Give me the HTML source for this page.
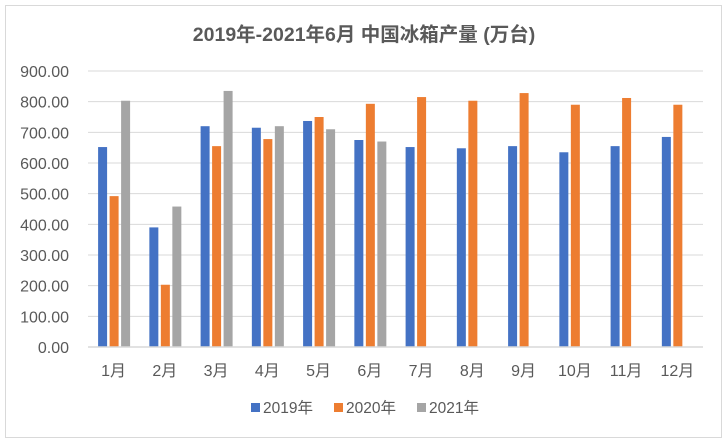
<!DOCTYPE html>
<html><head><meta charset="utf-8"><style>
html,body{margin:0;padding:0;background:#fff;}
body{width:727px;height:442px;overflow:hidden;}
text{font-family:"Liberation Sans","Noto Sans CJK SC",sans-serif;}
</style></head><body>
<svg id="s" width="727" height="442" xmlns="http://www.w3.org/2000/svg">
<rect x="5.5" y="5.5" width="716" height="432" fill="#fff" stroke="#d9d9d9" stroke-width="1"/>
<text x="364" y="41" text-anchor="middle" font-size="19.5" font-weight="bold" fill="#595959">2019年-2021年6月 中国冰箱产量 (万台)</text>
<g id="g"></g>
<g font-size="15.5" fill="#595959">
<rect x="251" y="403" width="9" height="9" fill="#4472c4"/><text x="263" y="413">2019年</text>
<rect x="334" y="403" width="9" height="9" fill="#ed7d31"/><text x="346" y="413">2020年</text>
<rect x="417" y="403" width="9" height="9" fill="#a5a5a5"/><text x="429" y="413">2021年</text>
</g>
</svg>
<script>
var g=document.getElementById('g'),h='';
var y0=347,k=276/900;
for(var i=0;i<=9;i++){var y=y0-i*100*k;
 if(i>0)h+='<line x1="88" x2="703" y1="'+y+'" y2="'+y+'" stroke="#d9d9d9" stroke-width="1"/>';
 h+='<text x="69" y="'+(y+6)+'" text-anchor="end" font-size="16" fill="#595959">'+(i*100).toFixed(2)+'</text>';}
var d=[[652,390,720,715,737,675,652,648,655,635,655,685],[492,203,655,678,750,793,815,803,828,790,812,790],[803,458,835,720,710,670]];
var c=['#4472c4','#ed7d31','#a5a5a5'],off=[-15.5,-4,7.5];
for(var s=0;s<3;s++)for(var j=0;j<d[s].length;j++){var cx=113.6+51.25*j,hh=d[s][j]*k;
 h+='<rect x="'+(cx+off[s])+'" y="'+(y0-hh)+'" width="9" height="'+hh+'" fill="'+c[s]+'"/>';}
h+='<line x1="88" x2="703" y1="'+y0+'" y2="'+y0+'" stroke="#d9d9d9" stroke-width="1.5"/>';
for(var j=0;j<12;j++){h+='<text x="'+(113.6+51.25*j)+'" y="376" text-anchor="middle" font-size="16" fill="#595959">'+(j+1)+'月</text>';}
g.innerHTML=h;
</script>
</body></html>
